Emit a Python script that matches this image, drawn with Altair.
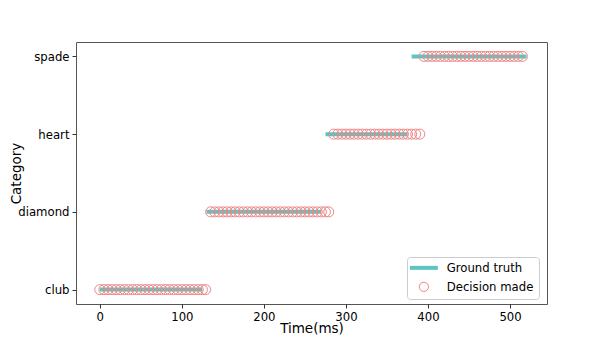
import altair as alt
import pandas as pd

categories = ["club", "diamond", "heart", "spade"]

# Ground truth segments (ms)
gt_start = [0, 130, 275, 380]
gt_end = [125, 270, 375, 520]

# Decision times (ms) per category
club_times = [0, 5, 10, 15, 20, 25, 30, 35, 40, 45, 50, 55, 60, 65, 70, 75, 80,
              85, 90, 95, 100, 105, 110, 115, 120, 125, 129]
diamond_times = [135, 140, 145, 150, 155, 160, 165, 170, 175, 180, 185, 190, 195,
                 200, 205, 210, 215, 220, 225, 230, 235, 240, 245, 250, 255, 260,
                 265, 270, 275, 279]
heart_times = [285, 290, 295, 300, 305, 310, 315, 320, 325, 330, 335, 340, 345,
               350, 355, 360, 365, 370, 375, 380, 385, 390]
spade_times = [395, 400, 405, 410, 415, 420, 425, 430, 435, 440, 445, 450, 455,
               460, 465, 470, 475, 480, 485, 490, 495, 500, 505, 510, 515]

series_names = ["Ground truth", "Decision made"]
series_colors = ["#5ec4c2", "#ef8585"]

gt_df = pd.DataFrame({
    "category": categories,
    "start": gt_start,
    "end": gt_end,
    "series": series_names[0],
})

rows = []
for cat, times in zip(categories, [club_times, diamond_times, heart_times, spade_times]):
    for t in times:
        rows.append({"category": cat, "time": t, "series": series_names[1]})
pt_df = pd.DataFrame(rows)

y_sort = ["spade", "heart", "diamond", "club"]

color_scale = alt.Scale(domain=series_names, range=series_colors)

legend = alt.Legend(
    title=None,
    orient="none",
    legendX=331,
    legendY=215,
    labelFontSize=11.7,
    labelFont="DejaVu Sans",
    labelColor="black",
    fillColor="white",
    strokeColor="#cccccc",
    cornerRadius=3,
    padding=5,
    rowPadding=4,
    symbolOffset=6,
    labelOffset=17,
    symbolType=alt.ExprRef(expr="datum.value === 'Ground truth' ? 'stroke' : 'circle'"),
    symbolSize=alt.ExprRef(expr="datum.value === 'Ground truth' ? 784 : 85"),
    symbolStrokeWidth=alt.ExprRef(expr="datum.value === 'Ground truth' ? 4 : 1"),
    symbolFillColor="transparent",
)

x_scale = alt.Scale(domain=[-29, 545], nice=False, zero=False)
y_scale = alt.Scale(type="point", padding=0.185)

x_axis = alt.Axis(title="Time(ms)", values=[0, 100, 200, 300, 400, 500], grid=False,
                  titleY=24, titleBaseline="middle")
y_axis = alt.Axis(title="Category", grid=False, titleX=-60, titleBaseline="middle")

rules = alt.Chart(gt_df).mark_rule(strokeWidth=4).encode(
    x=alt.X("start:Q", scale=x_scale, axis=x_axis),
    x2="end:Q",
    y=alt.Y("category:N", sort=y_sort, scale=y_scale, axis=y_axis),
    color=alt.Color("series:N", scale=color_scale, legend=legend),
)

points = alt.Chart(pt_df).mark_point(filled=False, size=100, strokeWidth=1, opacity=1).encode(
    x=alt.X("time:Q", scale=x_scale, axis=x_axis),
    y=alt.Y("category:N", sort=y_sort, scale=y_scale, axis=y_axis),
    color=alt.Color("series:N", scale=color_scale, legend=legend),
)

chart = (
    alt.layer(rules, points)
    .properties(
        width=471,
        height=262,
        autosize=alt.AutoSizeParams(type="none"),
        padding={"left": 68, "top": 34, "right": 45, "bottom": 32},
    )
    .configure_view(stroke="#555555", strokeWidth=1)
    .configure_axis(
        labelFont="DejaVu Sans",
        titleFont="DejaVu Sans",
        labelFontSize=11.7,
        titleFontSize=13.5,
        titleFontWeight="normal",
        labelColor="black",
        titleColor="black",
        domain=False,
        tickColor="#333333",
        tickSize=4,
        labelPadding=3,
    )
)

chart.save("out.html", embed_options={"renderer": "svg", "actions": False})
